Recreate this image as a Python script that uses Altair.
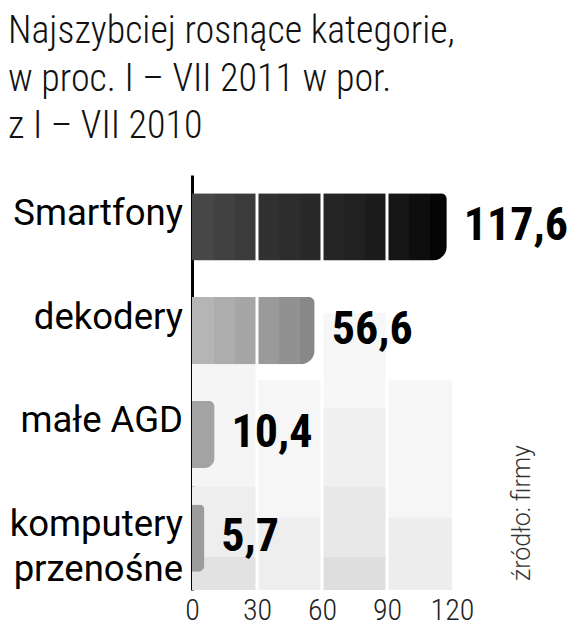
import altair as alt
import pandas as pd

# ---- data ----
CATEGORIES = ["Smartfony", "dekodery", "małe AGD", "komputery przenośne"]
LABEL_LINES = [["Smartfony"], ["dekodery"], ["małe AGD"], ["komputery", "przenośne"]]
VALUES = [117.6, 56.6, 10.4, 5.7]
TICKS = [0, 30, 60, 90, 120]
SEPARATORS = [30, 60, 90]
TITLE_LINES = ["Najszybciej rosnące kategorie,", "w proc. I – VII 2011 w por.", "z I – VII 2010"]
SOURCE = "źródło: firmy"

# stripe shades (every 10 units) of each bar
STRIPES = [
    ["#474747", "#414141", "#3b3b3b", "#313131", "#2d2d2d", "#292929",
     "#252525", "#212121", "#1c1c1c", "#161616", "#0e0e0e", "#050505"],
    ["#b5b5b5", "#adadad", "#a6a6a6", "#9a9a9a", "#919191", "#888888"],
    ["#a3a3a3", "#8e8e8e"],
    ["#9c9c9c"],
]
CORNER_TOP = [6, 6, 6, 5]
CORNER_BOTTOM = [14, 14, 10, 7]

# decorative background cells (x in value units, y in row units 0..4)
BG_X0 = [0, 0, 0, 30, 30, 60, 60, 60, 60, 90, 90]
BG_X1 = [30, 30, 30, 60, 60, 90, 90, 90, 90, 120, 120]
BG_T0 = [1.8, 3.0, 3.68, 1.98, 3.3, 1.33, 2.24, 3.0, 3.68, 1.98, 3.3]
BG_T1 = [3.0, 3.68, 4.0, 3.3, 4.0, 2.24, 3.0, 3.68, 4.0, 3.3, 4.0]
BG_SHADE = ["#f5f5f5", "#eeeeee", "#e2e2e2", "#f6f6f6", "#eeeeee",
            "#f7f7f7", "#f0f0f0", "#e8e8e8", "#dedede", "#f6f6f6", "#ededed"]

NARROW = "Roboto Condensed, DejaVu Sans Condensed, sans-serif"
REGULAR = "Roboto, Liberation Sans, sans-serif"

df = pd.DataFrame({"category": CATEGORIES, "value": VALUES, "lines": LABEL_LINES})
bg = pd.DataFrame({"x0": BG_X0, "x1": BG_X1, "t0": BG_T0, "t1": BG_T1, "shade": BG_SHADE})

xscale = alt.Scale(domain=[0, 120], nice=False)
yband = alt.Scale(domain=CATEGORIES, paddingInner=0.354, paddingOuter=0.177)

x_axis = alt.Axis(values=TICKS, domain=False, ticks=False, grid=False, title=None,
                  labelFont=NARROW, labelFontSize=30, labelFontWeight=300,
                  labelColor="#222222", labelPadding=5, labelFlush=False,
                  labelOverlap=False)
y_axis = alt.Axis(orient="left", domain=True, domainColor="#000000", domainWidth=3,
                  ticks=False, labels=False, grid=False, title=None)

background = alt.Chart(bg).mark_rect().encode(
    x=alt.X("x0:Q", scale=xscale, axis=x_axis),
    x2="x1:Q",
    y=alt.Y("t0:Q", scale=alt.Scale(domain=[0, 4], reverse=True, nice=False), axis=None),
    y2="t1:Q",
    color=alt.Color("shade:N", scale=None),
)


def gradient_for(value, shades):
    stops = []
    for k, c in enumerate(shades):
        a = min(1.0, k * 10 / value)
        b = min(1.0, (k + 1) * 10 / value)
        stops.append(alt.GradientStop(offset=a, color=c))
        stops.append(alt.GradientStop(offset=b, color=c))
    return alt.Gradient(gradient="linear", stops=stops, x1=0, x2=1, y1=0, y2=0)


bar_layers = []
for i, cat in enumerate(CATEGORIES):
    bar_layers.append(
        alt.Chart(df).transform_filter(alt.datum.category == cat).mark_bar(
            color=gradient_for(VALUES[i], STRIPES[i]),
            cornerRadiusTopRight=CORNER_TOP[i],
            cornerRadiusBottomRight=CORNER_BOTTOM[i],
        ).encode(
            x=alt.X("value:Q", scale=xscale, axis=x_axis),
            y=alt.Y("category:N", scale=yband, axis=y_axis, sort=CATEGORIES),
        )
    )

separators = alt.Chart(pd.DataFrame({"s": SEPARATORS})).mark_rule(
    color="white", strokeWidth=3
).encode(x=alt.X("s:Q", scale=xscale, axis=x_axis))

value_labels = alt.Chart(df).transform_calculate(
    label="replace(format(datum.value, '.1f'), '.', ',')"
).mark_text(
    align="left", baseline="alphabetic", dx=17, dy=13,
    font=NARROW, fontWeight="bold", fontSize=46, color="#000000",
).encode(
    x=alt.X("value:Q", scale=xscale, axis=x_axis),
    y=alt.Y("category:N", scale=yband, axis=y_axis, sort=CATEGORIES),
    text="label:N",
)

cat_labels = alt.Chart(df).mark_text(
    align="right", baseline="alphabetic", dy=-2, lineHeight=45,
    font=REGULAR, fontSize=36.5, color="#000000",
).encode(
    x=alt.value(-9),
    y=alt.Y("category:N", scale=yband, axis=y_axis, sort=CATEGORIES),
    text="lines:N",
)

title = alt.Chart(pd.DataFrame({"t": [TITLE_LINES]})).mark_text(
    align="left", baseline="alphabetic", lineHeight=47.5,
    font=NARROW, fontWeight=300, fontSize=38, color="#111111",
).encode(x=alt.value(-184), y=alt.value(-132), text="t:N")

source = alt.Chart(pd.DataFrame({"t": [SOURCE]})).mark_text(
    align="center", baseline="middle", angle=270,
    font=REGULAR, fontWeight=300, fontSize=25, color="#333333",
).encode(x=alt.value(330), y=alt.value(338), text="t:N")

main = alt.layer(*bar_layers, separators, value_labels, cat_labels, title, source)

chart = alt.layer(background, main).resolve_scale(y="independent").properties(
    width=260, height=415,
    autosize=alt.AutoSizeParams(type="none"),
    padding={"left": 184, "top": 167, "right": 116, "bottom": 42},
).configure_view(stroke=None)

chart.save("out.html", embed_options={"renderer": "svg", "actions": False})
